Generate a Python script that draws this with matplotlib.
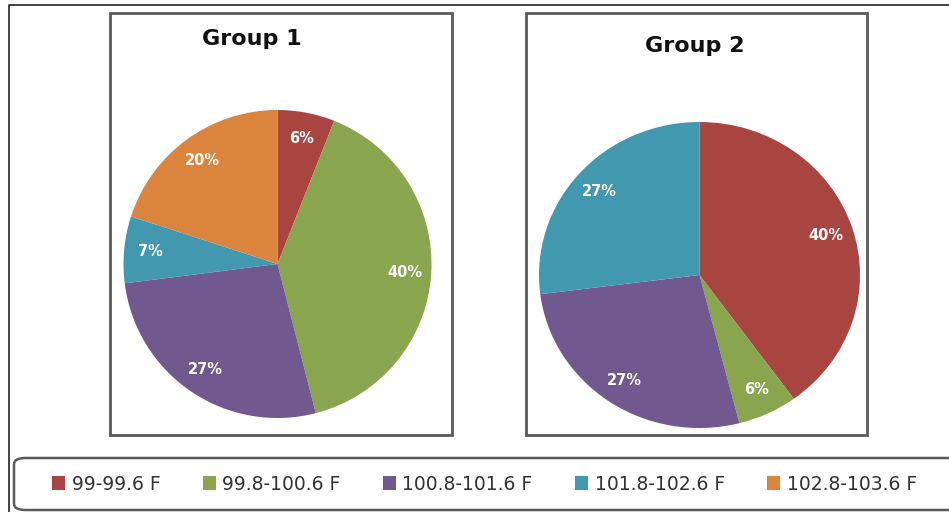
import matplotlib
matplotlib.use("Agg")
import matplotlib.pyplot as plt
from matplotlib.patches import Rectangle, FancyBboxPatch, Patch
from matplotlib.lines import Line2D

# temperature bands and share of patients (%) in each group
bands = ["99-99.6 F", "99.8-100.6 F", "100.8-101.6 F", "101.8-102.6 F", "102.8-103.6 F"]
colors = ["#A94541", "#89A54E", "#71588F", "#4198AF", "#DB843D"]

group1_bands = ["99-99.6 F", "99.8-100.6 F", "100.8-101.6 F", "101.8-102.6 F", "102.8-103.6 F"]
group1_pct = [6, 40, 27, 7, 20]

group2_bands = ["99-99.6 F", "99.8-100.6 F", "100.8-101.6 F", "101.8-102.6 F"]
group2_pct = [40, 6, 27, 27]

W, H = 949, 512
fig = plt.figure(figsize=(W / 100, H / 100), dpi=100)
fig.patch.set_facecolor("white")


def px_box(x0, y0, x1, y1):
    # pixel box (top-left origin) -> figure fraction [left, bottom, width, height]
    return [x0 / W, 1 - y1 / H, (x1 - x0) / W, (y1 - y0) / H]


def rect(x0, y0, x1, y1, **kw):
    l, b, w, h = px_box(x0, y0, x1, y1)
    fig.patches.append(Rectangle((l, b), w, h, transform=fig.transFigure,
                                 fill=False, **kw))


# outer frame (only top and left edges visible)
fig.lines.append(Line2D([9 / W, 9 / W, 1.0], [0.0, 1 - 5 / H, 1 - 5 / H],
                        transform=fig.transFigure, color="#222222", lw=1.2))

# boxes round each chart
rect(110, 13, 452, 435, edgecolor="#5a5a5a", lw=2.0)
rect(526, 13, 867, 435, edgecolor="#5a5a5a", lw=2.0)


def draw_pie(box, labels, values, title, tx, ty, auto_aspect=False):
    ax = fig.add_axes(px_box(*box))
    cols = [colors[bands.index(b)] for b in labels]
    ax.pie(values, colors=cols, startangle=90, counterclock=False,
           autopct="%.0f%%", pctdistance=0.83,
           wedgeprops=dict(linewidth=0),
           textprops=dict(color="white", fontweight="bold", fontsize=10.5))
    if auto_aspect:
        ax.set_aspect("auto")
    ax.set_xlim(-1, 1)
    ax.set_ylim(-1, 1)
    ax.axis("off")
    fig.text(tx / W, 1 - ty / H, title, ha="center", va="baseline",
             fontsize=16, fontweight="bold", color="#111111")


draw_pie((123, 110, 432, 418), group1_bands, group1_pct, "Group 1", 252, 45)
draw_pie((539, 122, 860, 428), group2_bands, group2_pct, "Group 2", 695, 52,
         auto_aspect=True)

# legend box with rounded corners, running off the right edge
l, b, w, h = px_box(14, 458, 975, 510)
fig.patches.append(FancyBboxPatch((l, b), w, h, transform=fig.transFigure,
                                  boxstyle="round,pad=0,rounding_size=0.012",
                                  fill=False, edgecolor="#5a5a5a", lw=1.8,
                                  clip_on=False))

handles = [Patch(facecolor=c, edgecolor="none") for c in colors]
fig.legend(handles, bands, loc="center left",
           bbox_to_anchor=(35 / W, 1 - 484 / H), ncol=5, frameon=False,
           fontsize=13.5, handlelength=0.7, handleheight=0.7,
           handletextpad=0.35, columnspacing=2.25, labelcolor="#333333")

fig.savefig("out.png", dpi=100)
